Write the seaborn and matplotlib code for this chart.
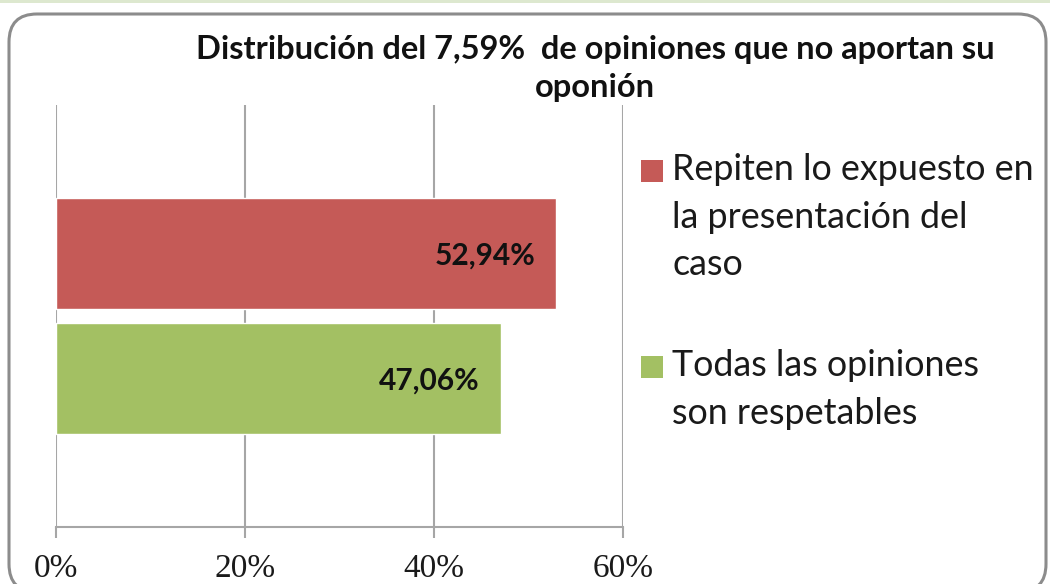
import matplotlib
matplotlib.use("Agg")
import matplotlib.pyplot as plt
import numpy as np
import pandas as pd
import seaborn as sns
from matplotlib.patches import FancyBboxPatch, Rectangle
from matplotlib.ticker import FuncFormatter

# data
series = ["Repiten lo expuesto en la presentación del caso",
          "Todas las opiniones son respetables"]
legend_labels = ["Repiten lo expuesto en\nla presentación del\ncaso",
                 "Todas las opiniones\nson respetables"]
values = [52.94, 47.06]
value_labels = ["52,94%", "47,06%"]
colors = ["#c55a57", "#a3c063"]
x_ticks = [0, 20, 40, 60]
title = "Distribución del 7,59%  de opiniones que no aportan su\noponión"

df = pd.DataFrame({"cat": ["" for _ in series], "serie": series, "valor": values})

sns.set_theme(style="white")
plt.rcParams['font.family'] = ['Lato', 'DejaVu Sans']

W, H = 1050, 584
fig = plt.figure(figsize=(W / 100, H / 100), dpi=100)
ax = fig.add_axes([56 / W, 1 - 527 / H, (623 - 56) / W, (527 - 105) / H])

sns.barplot(data=df, y="cat", x="valor", hue="serie", hue_order=series,
            palette=colors, orient="h", width=0.593, gap=0.11, legend=False,
            saturation=1, ax=ax)

ax.set_xlim(0, 60)
ax.set_xticks(x_ticks)
ax.xaxis.set_major_formatter(FuncFormatter(lambda v, _: f"{v:.0f}%"))
ax.set_xlabel("")
ax.set_ylabel("")
ax.set_yticks([])
ax.grid(axis="x", color="#a6a6a6", lw=1.5)
ax.set_axisbelow(True)
for s in ["top", "right", "left"]:
    ax.spines[s].set_visible(False)
ax.spines["bottom"].set_color("#a6a6a6")
ax.spines["bottom"].set_linewidth(1.5)
ax.tick_params(axis="x", direction="out", length=8, width=1.5, color="#a6a6a6",
               bottom=True, pad=11)
for t in ax.get_xticklabels():
    t.set_fontfamily(["Liberation Serif", "DejaVu Serif"])
    t.set_fontsize(24)
    t.set_color("#1a1a1a")

# value labels inside the bar ends
for cont, lab in zip(ax.containers, value_labels):
    anns = ax.bar_label(cont, labels=[lab], padding=-15, fontsize=21.5,
                        fontweight="bold", color="#111111")
    for a in anns:
        a.set_ha("right")
        a.set_va("center_baseline")

# title
fig.text(595 / W, 1 - 68.5 / H, title, ha="center", va="center", fontsize=23.5,
         fontweight="bold", linespacing=1.36, color="#111111")

# legend drawn by hand so the swatch sits on the first line
legend_y = [171, 367]
for lab, col, ly in zip(legend_labels, colors, legend_y):
    fig.patches.append(Rectangle(((641) / W, 1 - (ly + 11) / H), 22 / W, 22 / H,
                                 transform=fig.transFigure, facecolor=col,
                                 edgecolor="none"))
    fig.text(672 / W, 1 - (ly - 18) / H, lab, ha="left", va="top", fontsize=25.8,
             linespacing=1.54, color="#1a1a1a")

# rounded frame and strip at the top
fig.patches.append(Rectangle((0, 1 - 3 / H), 1, 3 / H, transform=fig.transFigure,
                             facecolor="#dde8cf", edgecolor="none"))
fig.patches.append(FancyBboxPatch((9, -8), 1037, H - 14 + 8,
                                  boxstyle="round,pad=0,rounding_size=28",
                                  transform=None, facecolor="none",
                                  edgecolor="#8c8c8c", lw=2.2))

fig.savefig("out.png", dpi=100)
